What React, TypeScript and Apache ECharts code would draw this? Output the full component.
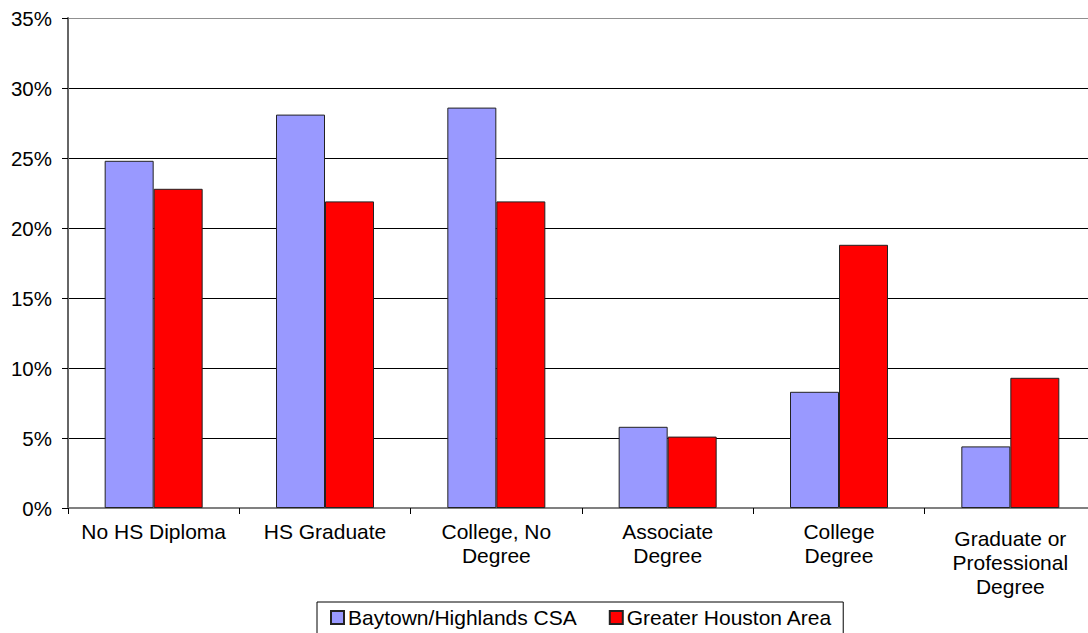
import React, { useEffect, useRef } from "react";
import * as echarts from "echarts";

const categories = [
  "No HS Diploma",
  "HS Graduate",
  "College, No\nDegree",
  "Associate\nDegree",
  "College\nDegree",
  "Graduate or\nProfessional\nDegree",
];
const baytown = [24.8, 28.1, 28.6, 5.8, 8.3, 4.4];
const houston = [22.8, 21.9, 21.9, 5.1, 18.8, 9.3];
const seriesNames = ["Baytown/Highlands CSA", "Greater Houston Area"];

const FONT = "'Liberation Sans', Arial, sans-serif";

export default function App() {
  const ref = useRef<HTMLDivElement>(null);
  useEffect(() => {
    if (!ref.current) return;
    const chart = echarts.init(ref.current, undefined, { renderer: "svg" });
    const catData = categories.map((c) => {
      const lines = c.split("\n").length;
      return lines > 2 ? { value: c, textStyle: { padding: [7, 0, 0, 0] } } : { value: c };
    });
    chart.setOption({
      animation: false,
      backgroundColor: "#fff",
      grid: { left: 68, top: 18, width: 1028, height: 490, containLabel: false },
      legend: {
        left: 317,
        top: 602,
        orient: "horizontal",
        borderColor: "#000",
        borderWidth: 1,
        padding: [5, 11, 14, 13],
        itemWidth: 13,
        itemHeight: 13,
        itemGap: 32,
        icon: "rect",
        textStyle: { fontSize: 21, color: "#000", fontFamily: FONT, padding: [0, 0, 0, -1] },
        data: seriesNames,
      },
      xAxis: {
        type: "category",
        data: catData,
        axisLine: { lineStyle: { color: "#808080", width: 2 } },
        axisTick: { show: true, length: 6, lineStyle: { color: "#000", width: 1 } },
        axisLabel: {
          color: "#000",
          fontSize: 21,
          fontFamily: FONT,
          lineHeight: 24,
          margin: 11,
          interval: 0,
        },
        splitLine: { show: false },
      },
      yAxis: {
        type: "value",
        min: 0,
        max: 35,
        interval: 5,
        axisLine: { show: true, lineStyle: { color: "#666", width: 2 } },
        axisTick: { show: true, length: 6, lineStyle: { color: "#000", width: 1 } },
        axisLabel: {
          formatter: "{value}%",
          color: "#000",
          fontSize: 20.5,
          fontFamily: FONT,
          margin: 16,
        },
        splitLine: {
          show: true,
          lineStyle: {
            color: ["#000", "#000", "#000", "#000", "#000", "#000", "#000", "#909090"],
            width: 1,
          },
        },
      },
      series: [
        {
          name: seriesNames[0],
          type: "bar",
          data: baytown,
          barWidth: 49,
          barGap: "0%",
          itemStyle: { color: "#9999FF", borderColor: "#222", borderWidth: 1 },
        },
        {
          name: seriesNames[1],
          type: "bar",
          data: houston,
          barWidth: 49,
          barGap: "0%",
          itemStyle: { color: "#FF0000", borderColor: "#222", borderWidth: 1 },
        },
      ],
    });
    return () => chart.dispose();
  }, []);
  return (
    <div style={{ width: 1088, height: 633, position: "absolute", left: 0, top: 0, overflow: "hidden" }}>
      <div ref={ref} style={{ width: 1100, height: 633 }} />
    </div>
  );
}
